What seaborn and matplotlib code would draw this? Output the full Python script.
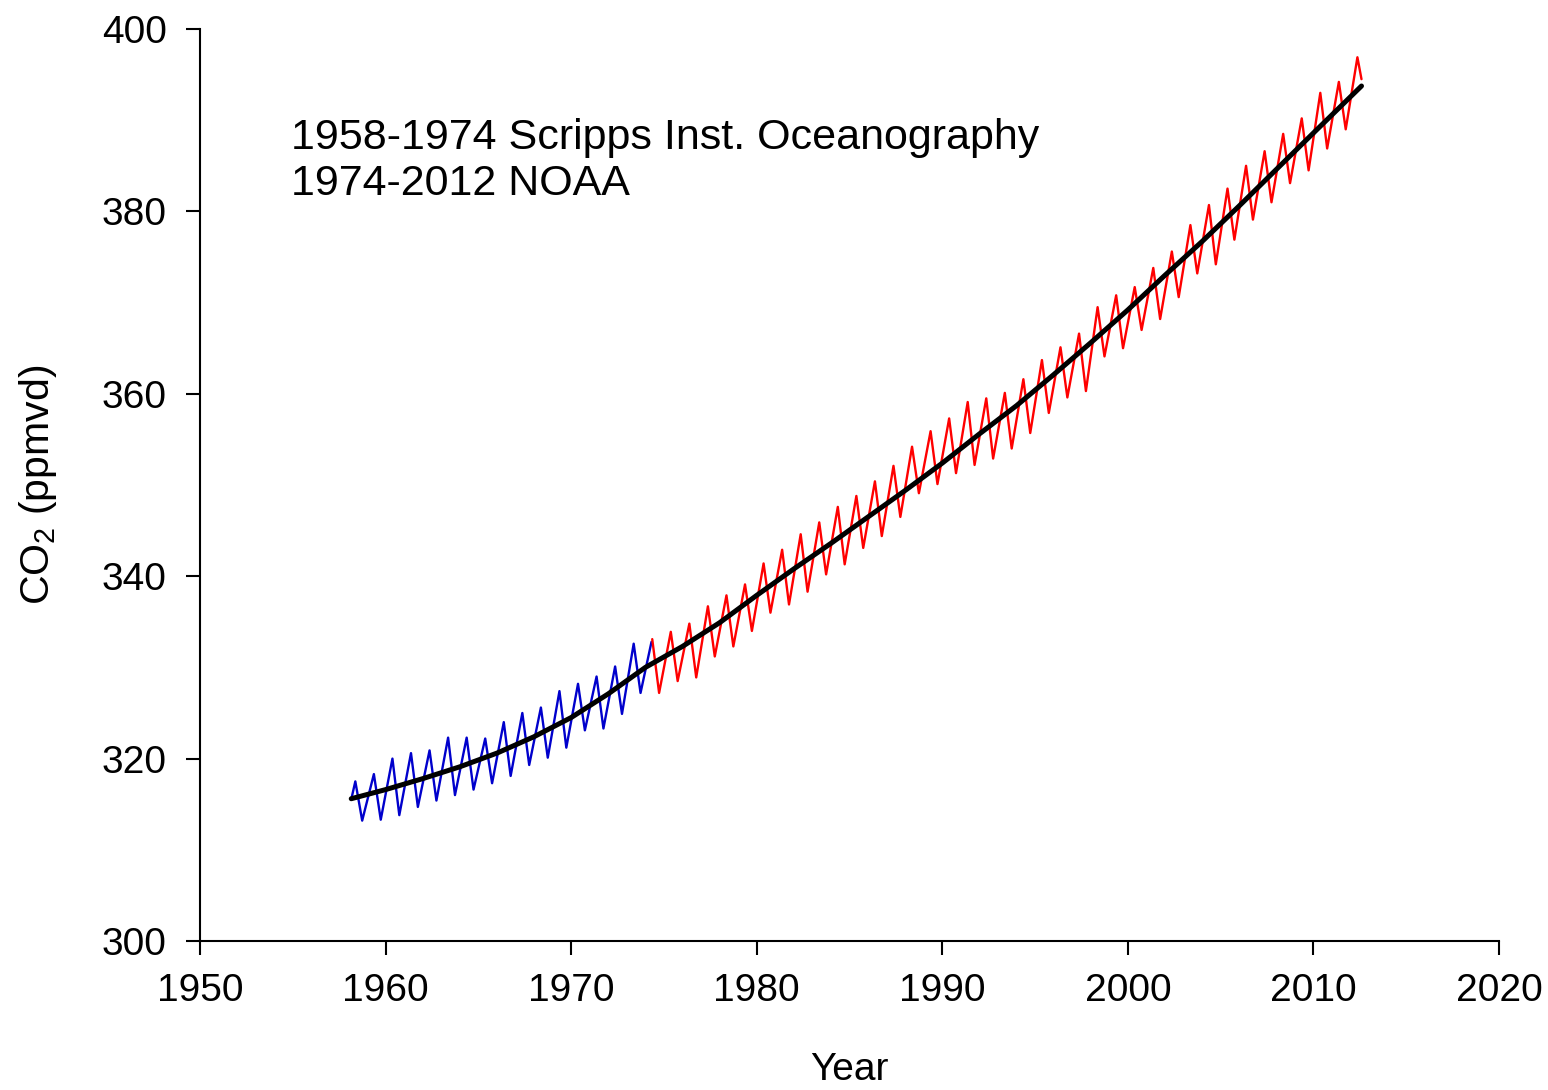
import numpy as np
import pandas as pd
import matplotlib
matplotlib.use("Agg")
import matplotlib.pyplot as plt
import seaborn as sns

# ---------------- data ----------------
# Scripps (blue): seasonal maxima (~May) and minima (~Sep/Oct), 1958-1973
scripps_years = list(range(1958, 1974))
scripps_peaks = [317.5, 318.3, 320.0, 320.6, 320.9, 322.3, 322.3, 322.2,
                 324.0, 325.0, 325.6, 327.4, 328.2, 329.0, 330.1, 332.6]
scripps_troughs = [313.2, 313.3, 313.8, 314.7, 315.4, 316.0, 316.6, 317.3,
                   318.1, 319.3, 320.1, 321.2, 323.1, 323.3, 324.9, 327.2]
scripps_first = (1958.17, 315.7)
scripps_last = (1974.33, 332.8)

# NOAA (red): seasonal maxima 1974-2012, minima 1974-2011
noaa_peak_years = list(range(1974, 2013))
noaa_peaks = [333.1, 333.9, 334.8, 336.7, 337.9, 339.1, 341.4, 342.9, 344.6,
              345.9, 347.6, 348.8, 350.4, 352.1, 354.2, 355.9, 357.3, 359.1,
              359.5, 360.1, 361.6, 363.7, 365.1, 366.6, 369.5, 370.8, 371.7,
              373.8, 375.6, 378.5, 380.7, 382.5, 385.0, 386.6, 388.5, 390.2,
              393.0, 394.2, 396.9]
noaa_trough_years = list(range(1974, 2012))
noaa_troughs = [327.2, 328.5, 328.9, 331.2, 332.3, 334.0, 336.0, 336.9, 338.3,
                340.2, 341.3, 343.1, 344.4, 346.5, 349.1, 350.1, 351.3, 352.2,
                352.9, 354.0, 355.7, 357.9, 359.6, 360.3, 364.1, 365.0, 367.0,
                368.2, 370.6, 373.2, 374.2, 376.9, 379.1, 381.0, 383.1, 384.5,
                386.9, 389.0]
noaa_last = (2012.59, 394.5)

# seasonal timing within the year (fraction of year)
PEAK_FRAC = 0.37
TROUGH_FRAC = 0.74

# smoothed trend (black)
trend_x = [1958.15, 1960, 1962, 1964, 1966, 1968, 1970, 1972, 1974, 1976,
           1978, 1980, 1982, 1984, 1986, 1988, 1990, 1992, 1994, 1996,
           1998, 2000, 2002, 2004, 2006, 2008, 2010, 2012.59]
trend_y = [315.6, 316.6, 317.8, 319.1, 320.6, 322.4, 324.5, 327.1, 330.0,
           332.3, 334.9, 337.9, 340.8, 343.6, 346.5, 349.4, 352.4, 355.6,
           358.7, 362.1, 365.6, 369.2, 373.0, 376.7, 380.6, 384.6, 388.6,
           393.75]

x_ticks = [1950, 1960, 1970, 1980, 1990, 2000, 2010, 2020]
y_ticks = [300, 320, 340, 360, 380, 400]
note_lines = ["1958-1974 Scripps Inst. Oceanography", "1974-2012 NOAA"]


def build_series(first, peak_years, peaks, trough_years, troughs, last):
    pts = []
    if first is not None:
        pts.append(first)
    for yr, v in zip(peak_years, peaks):
        pts.append((yr + PEAK_FRAC, v))
    for yr, v in zip(trough_years, troughs):
        pts.append((yr + TROUGH_FRAC, v))
    if last is not None:
        pts.append(last)
    pts.sort(key=lambda p: p[0])
    return pd.DataFrame(pts, columns=["year", "co2"])


blue_df = build_series(scripps_first, scripps_years, scripps_peaks,
                       scripps_years, scripps_troughs, scripps_last)
red_df = build_series(None, noaa_peak_years, noaa_peaks,
                      noaa_trough_years, noaa_troughs, noaa_last)
trend_df = pd.DataFrame({"year": trend_x, "co2": trend_y})

# ---------------- styling ----------------
sns.set_theme(style="ticks")
plt.rcParams["font.family"] = ["Liberation Sans", "DejaVu Sans"]
plt.rcParams["mathtext.fontset"] = "custom"
plt.rcParams["mathtext.rm"] = "Liberation Sans"
plt.rcParams["mathtext.it"] = "Liberation Sans"

fig = plt.figure(figsize=(15.48, 10.90), dpi=100)
ax = fig.add_axes([200 / 1548, 1 - 941 / 1090, 1299 / 1548, 912 / 1090])

sns.lineplot(data=blue_df, x="year", y="co2", ax=ax, color="#0000CC",
             linewidth=1.7, sort=False, estimator=None)
sns.lineplot(data=red_df, x="year", y="co2", ax=ax, color="#FF0000",
             linewidth=1.7, sort=False, estimator=None)
sns.lineplot(data=trend_df, x="year", y="co2", ax=ax, color="black",
             linewidth=3.6, sort=False, estimator=None)
for ln in ax.get_lines():
    ln.set_solid_joinstyle("round")
    ln.set_solid_capstyle("round")

ax.set_xlim(1950, 2020)
ax.set_ylim(300, 400)
ax.set_xticks(x_ticks)
ax.set_yticks(y_ticks)
ax.set_xticklabels([str(t) for t in x_ticks])
ax.set_yticklabels([str(t) for t in y_ticks])

for s in ["top", "right"]:
    ax.spines[s].set_visible(False)
for s in ["left", "bottom"]:
    ax.spines[s].set_linewidth(1.5)
    ax.spines[s].set_color("black")

ax.tick_params(axis="both", direction="out", length=10, width=1.5,
               colors="black", labelsize=28)
ax.tick_params(axis="x", pad=13)
ax.tick_params(axis="y", pad=14)

ax.set_xlabel("Year", fontsize=28, labelpad=31, color="black")
ax.set_ylabel(r"CO$_2$ (ppmvd)", fontsize=29.5, labelpad=31, color="black")

ax.text(0.0700, 0.868, note_lines[0], transform=ax.transAxes,
        fontsize=31, color="black", va="baseline", ha="left")
ax.text(0.0700, 0.868 - 46 / 912, note_lines[1], transform=ax.transAxes,
        fontsize=31, color="black", va="baseline", ha="left")

ax.grid(False)
fig.savefig("out.png", dpi=100)
